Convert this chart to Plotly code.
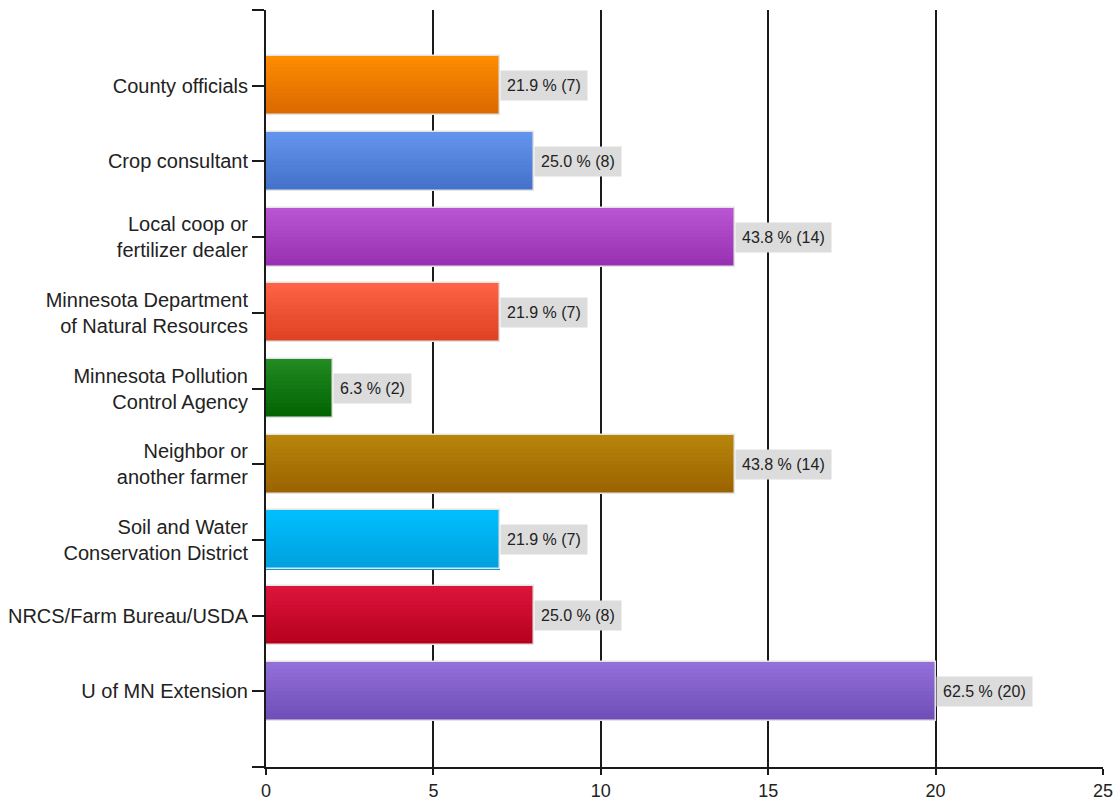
import plotly.graph_objects as go

categories = [
    "County officials",
    "Crop consultant",
    "Local coop or<br>fertilizer dealer",
    "Minnesota Department<br>of Natural Resources",
    "Minnesota Pollution<br>Control Agency",
    "Neighbor or<br>another farmer",
    "Soil and Water<br>Conservation District",
    "NRCS/Farm Bureau/USDA",
    "U of MN Extension",
]
counts = [7, 8, 14, 7, 2, 14, 7, 8, 20]
percents = [21.9, 25.0, 43.8, 21.9, 6.3, 43.8, 21.9, 25.0, 62.5]
top_colors = ["#FF8C00", "#6495ED", "#BA55D3", "#FF6347", "#228B22",
              "#B8860B", "#00BFFF", "#DC143C", "#9370DB"]
bottom_colors = ["#D86800", "#4370C8", "#9630B0", "#DC4020", "#006200",
                 "#9A6200", "#009FDC", "#B5001C", "#6E4DB5"]
x_ticks = [0, 5, 10, 15, 20, 25]


def hex2rgb(h):
    h = h.lstrip("#")
    return tuple(int(h[i:i + 2], 16) for i in (0, 2, 4))


def mix(c1, c2, t):
    a, b = hex2rgb(c1), hex2rgb(c2)
    return "rgb(%d,%d,%d)" % tuple(round(a[i] + (b[i] - a[i]) * t) for i in range(3))


ypos = list(range(len(categories)))
bar_w = 0.78
n_slices = 16
fig = go.Figure()
for k in range(n_slices):
    t = (k + 0.5) / n_slices
    cols = [mix(top_colors[i], bottom_colors[i], t) for i in range(len(counts))]
    fig.add_trace(go.Bar(
        x=counts, y=ypos, orientation="h",
        width=bar_w / n_slices + 0.002,
        offset=-bar_w / 2 + k * bar_w / n_slices,
        marker=dict(color=cols, line=dict(width=0)),
        showlegend=False, hoverinfo="skip",
    ))
# outline
fig.add_trace(go.Bar(
    x=counts, y=ypos, orientation="h", width=bar_w, offset=-bar_w / 2,
    marker=dict(color="rgba(0,0,0,0)", line=dict(color="#E4E4E4", width=1.5)),
    showlegend=False, hoverinfo="skip",
))

for i, (c, p) in enumerate(zip(counts, percents)):
    fig.add_annotation(
        x=c, y=i, xref="x", yref="y", xanchor="left", yanchor="middle",
        text="%.1f %% (%d)" % (p, c), showarrow=False,
        font=dict(family="Liberation Sans", size=16, color="#222222"),
        bgcolor="#DCDCDC", borderpad=6,
    )

fig.update_layout(
    width=1116, height=800,
    margin=dict(l=266, r=13, t=10, b=33),
    paper_bgcolor="white", plot_bgcolor="white",
    barmode="overlay", bargap=0,
    font=dict(family="Liberation Sans", size=20, color="#222222"),
)
fig.update_xaxes(
    range=[0, 25], tickvals=x_ticks, ticktext=[str(v) for v in x_ticks],
    showgrid=True, gridcolor="#1a1a1a", gridwidth=1.5,
    showline=True, linecolor="#1a1a1a", linewidth=2,
    ticks="outside", ticklen=6, tickcolor="#1a1a1a", tickwidth=1.5,
    zeroline=False, tickfont=dict(size=18), automargin=False,
)
fig.update_yaxes(
    range=[9, -1],
    tickvals=[-1] + ypos + [9],
    ticktext=[""] + categories + [""],
    showgrid=False, showline=True, linecolor="#1a1a1a", linewidth=2,
    ticks="outside", ticklen=12, tickcolor="#1a1a1a", tickwidth=1.5,
    zeroline=False, tickfont=dict(size=20), automargin=False,
)
fig.write_html(
    "out.html",
    config={"displayModeBar": False},
    post_script="document.body.style.margin='0px';document.body.style.overflow='hidden';",
)
